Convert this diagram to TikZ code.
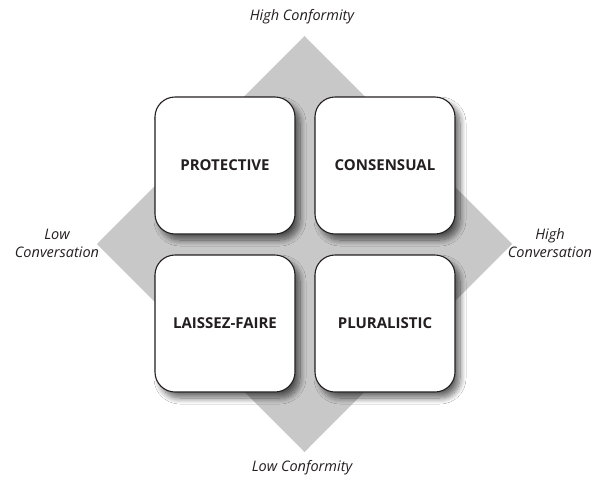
\documentclass[tikz,border=0pt]{standalone}
\usepackage{fontspec}
\setmainfont{Open Sans}
\usetikzlibrary{shadows.blur}
\definecolor{diamondgray}{RGB}{200,200,200}
\definecolor{textgray}{RGB}{35,31,32}
\tikzset{
  quad/.style={draw=textgray, line width=1.1pt, fill=white, rounded corners=20pt,
    minimum width=140pt, minimum height=137pt, inner sep=0pt,
    font=\fontsize{15}{17}\selectfont\bfseries, text=textgray,
    blur shadow={shadow xshift=5pt, shadow yshift=-6pt, shadow blur steps=10, shadow blur radius=6pt, shadow opacity=60}},
  axislabel/.style={font=\fontsize{14.5}{18}\selectfont\itshape, text=textgray, align=center, inner sep=0pt}
}
\begin{document}
\begin{tikzpicture}[x=1pt,y=-1pt]
\useasboundingbox (0,0) rectangle (594,482);
\fill[white] (0,0) rectangle (594,482);
\coordinate (dt) at (304.5,36);
\coordinate (dr) at (512,244);
\coordinate (db) at (304.5,452);
\coordinate (dl) at (97,244);
\fill[diamondgray] (dt) -- (dr) -- (db) -- (dl) -- cycle;
\node[quad] (prot) at (225,165.5) {PROTECTIVE};
\node[quad] (cons) at (385,165.5) {CONSENSUAL};
\node[quad] (lais) at (225,323.5) {LAISSEZ-FAIRE};
\node[quad] (plur) at (385,323.5) {PLURALISTIC};
\node[axislabel] (hc) at (302,17) {High Conformity};
\node[axislabel] (lc) at (302,468) {Low Conformity};
\node[axislabel] (lconv) at (57,243) {Low\\Conversation};
\node[axislabel] (hconv) at (550,243) {High\\Conversation};
\end{tikzpicture}
\end{document}
